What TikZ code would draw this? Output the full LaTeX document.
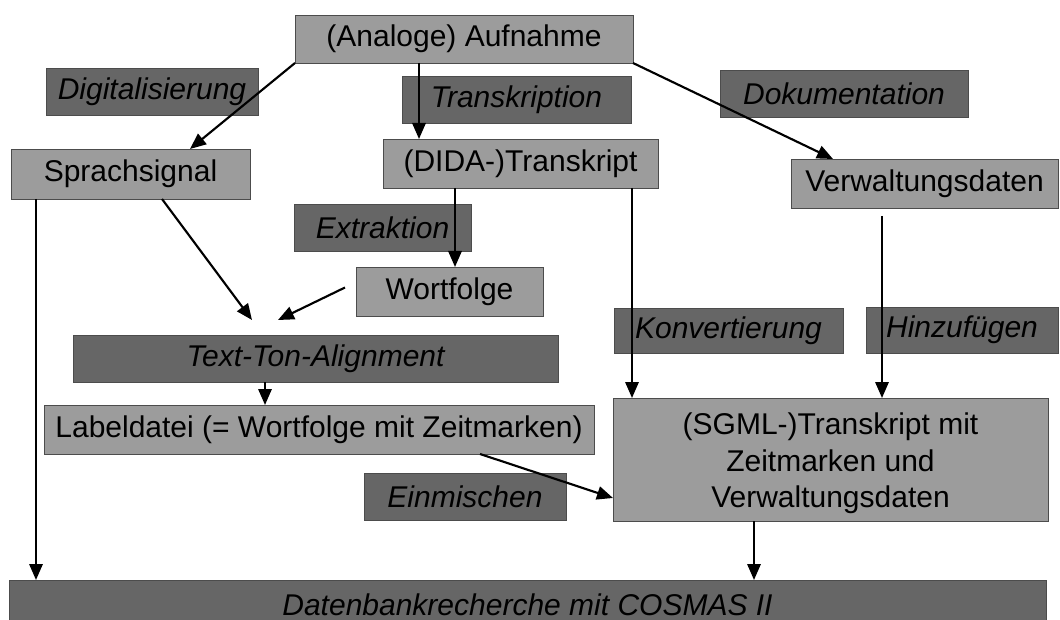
\documentclass[tikz,border=0pt]{standalone}
\usepackage{fontspec}
\setmainfont{Liberation Sans}
\usetikzlibrary{arrows.meta,calc}
\definecolor{lightbox}{gray}{0.61}
\definecolor{darkbox}{gray}{0.40}
\definecolor{boxline}{gray}{0.30}
\newcommand\mkbox[7]{%
  \node[#1, minimum width={(#5-#3)*0.75pt}, minimum height={(#6-#4)*0.75pt}]
    (#2) at ({(#3+#5)/2},{(#4+#6)/2}) {#7};}
\begin{document}
\begin{tikzpicture}[x=0.75pt,y=-0.75pt,
  base/.style={draw=boxline, line width=0.6pt, inner sep=0pt, outer sep=0pt,
    font=\fontsize{22.5}{27.5}\selectfont, align=center},
  lbox/.style={base, fill=lightbox},
  dbox/.style={base, fill=darkbox, font=\fontsize{22.5}{27.5}\selectfont\itshape},
  arr/.style={line width=1.6pt, -{Triangle[length=12pt,width=10pt]}}]
\useasboundingbox (0,0) rectangle (1060,620);
\fill[white] (0,0) rectangle (1060,620);
% label boxes (dark)
\mkbox{dbox}{dig}{46}{68}{258}{115}{Digitalisierung}
\mkbox{dbox}{trs}{402}{76}{631}{123}{Transkription}
\mkbox{dbox}{dok}{720}{70}{968}{117}{Dokumentation}
\mkbox{dbox}{ext}{294}{204}{471}{251}{Extraktion}
\mkbox{dbox}{tta}{73}{335}{558}{382}{Text-Ton-Alignment}
\mkbox{dbox}{konv}{614}{308}{843}{353}{Konvertierung}
\mkbox{dbox}{hinz}{866}{307}{1058}{353}{Hinzufügen}
\mkbox{dbox}{ein}{364}{473}{566}{520}{Einmischen}
\mkbox{dbox}{db}{9}{580}{1046}{630}{Datenbankrecherche mit COSMAS II}
% content boxes (light)
\mkbox{lbox}{ana}{295}{15}{633}{63}{(Analoge) Aufnahme}
\mkbox{lbox}{spr}{11}{149}{250}{199}{Sprachsignal}
\mkbox{lbox}{dida}{383}{139}{658}{188}{(DIDA-)Transkript}
\mkbox{lbox}{ver}{791}{159}{1058}{208}{Verwaltungsdaten}
\mkbox{lbox}{wort}{356}{267}{543}{316}{Wortfolge}
\mkbox{lbox}{lab}{44}{405}{594}{454}{Labeldatei (= Wortfolge mit Zeitmarken)}
\mkbox{lbox}{sgml}{613}{398}{1048}{521}{\rule{0pt}{22pt}(SGML-)Transkript mit\\Zeitmarken und\\Verwaltungsdaten}
% free arrow ends above the alignment box
\coordinate (ttaA) at ($(tta.north west)+(179,-15)$);
\coordinate (ttaB) at ($(tta.north west)+(205,-15)$);
% connectors
\draw[arr] (ana.south west) -- ($(spr.north west)+(179,0)$);
\draw[arr] ($(ana.south west)+(124,0)$) -- ($(dida.north west)+(36,0)$);
\draw[arr] (ana.south east) -- ($(ver.north west)+(42,0)$);
\draw[arr] ($(spr.south west)+(25,0)$) -- ($(db.north west)+(27,0)$);
\draw[arr] ($(spr.south west)+(151,0)$) -- (ttaA);
\draw[arr] ($(wort.west)+(-11,-4)$) -- (ttaB);
\draw[arr] ($(dida.south west)+(72,0)$) -- ($(wort.north west)+(99,0)$);
\draw[arr] ($(dida.south west)+(249,0)$) -- ($(sgml.north west)+(19,0)$);
\draw[arr] ($(ver.south west)+(91,8)$) -- ($(sgml.north west)+(269,0)$);
\draw[arr] ($(tta.south west)+(192,0)$) -- ($(lab.north west)+(221,0)$);
\draw[arr] ($(lab.south west)+(436,0)$) -- ($(sgml.north west)+(0,100)$);
\draw[arr] ($(sgml.south west)+(141,0)$) -- ($(db.north west)+(745,0)$);
\end{tikzpicture}
\end{document}
